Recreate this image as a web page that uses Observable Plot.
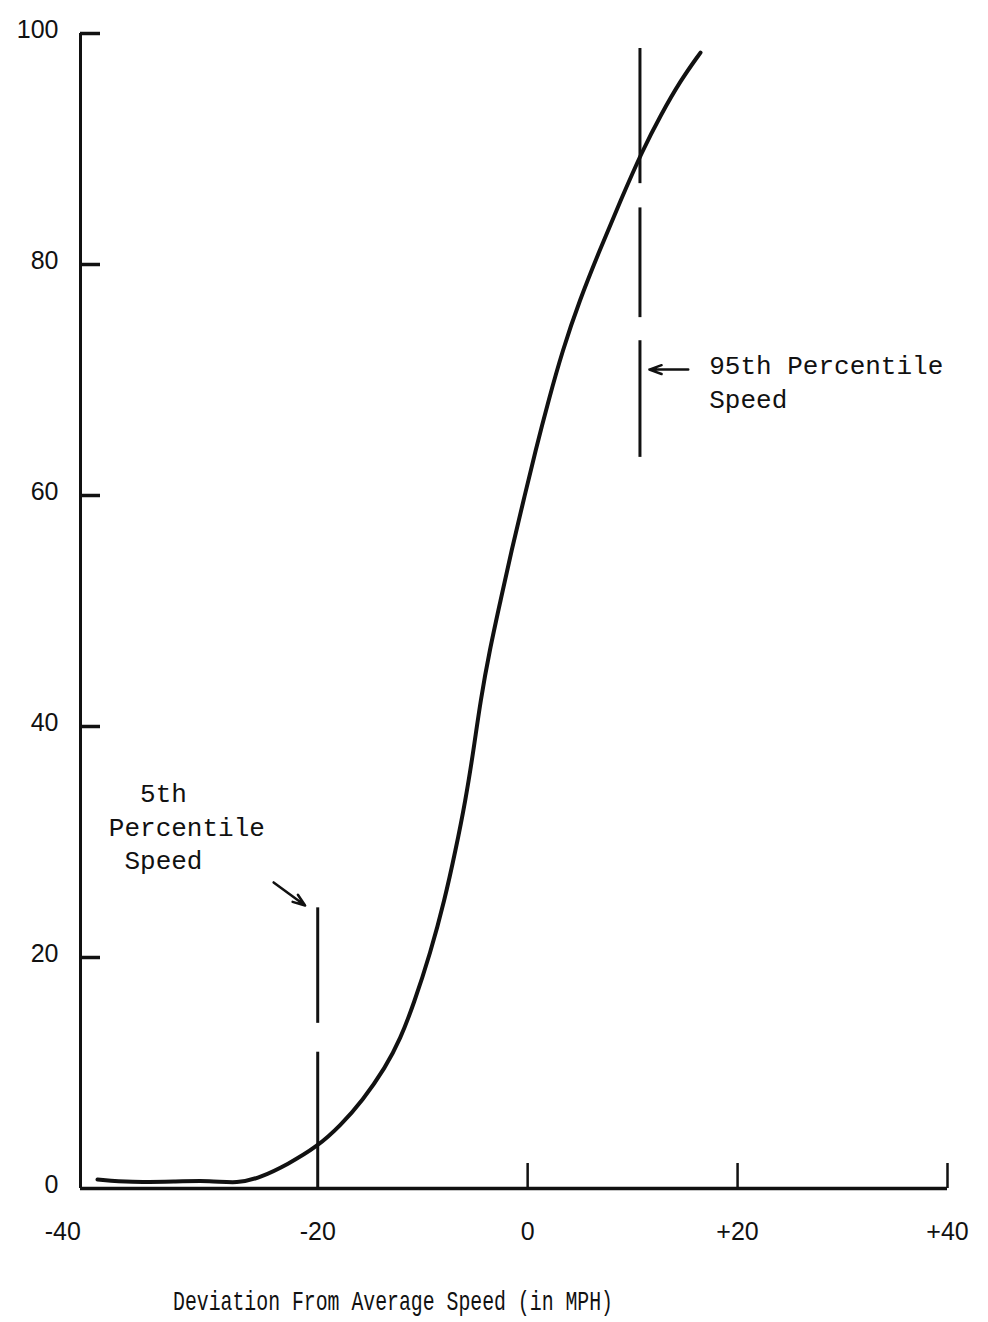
<!DOCTYPE html>
<html>
<head>
<meta charset="utf-8">
<script src="https://cdn.jsdelivr.net/npm/d3@7"></script>
<script src="https://cdn.jsdelivr.net/npm/@observablehq/plot@0.6"></script>
<style>
  html, body { margin: 0; padding: 0; background: #fff; }
  #chart svg { display: block; }
</style>
</head>
<body>
<div id="chart"></div>
<script>
// ---- data ----
const xDomain = [-42.6, 40];
const yDomain = [0, 100];
const xTickValues = [-20, 0, 20, 40];
const xTickLabels = ["-20", "0", "+20", "+40"];
const xFirstTick = [-40];
const xFirstLabel = ["-40"];
const xTickMarks = [0, 20, 40];
const yTickValues = [0, 20, 40, 60, 80, 100];
const yTickMarks = [20, 40, 60, 80, 100];

// cumulative curve (deviation mph, cumulative percent)
const curveX = [-40.98, -37.84, -33.55, -30.21, -27.64, -25.45, -22.88, -20.02, -17.83, -15.73, -13.54, -12.11, -10.87, -9.25, -7.92, -6.87, -5.92, -5.16, -4.49, -3.63, -2.58, -1.54, -0.39, 0.75, 1.99, 3.32, 4.94, 6.85, 8.85, 10.94, 12.66, 14.56, 16.47];
const curveY = [0.78, 0.52, 0.61, 0.69, 0.43, 0.95, 2.08, 3.64, 5.45, 7.62, 10.48, 12.99, 15.93, 20.43, 24.94, 29.26, 33.59, 37.92, 42.25, 46.58, 50.91, 55.24, 59.57, 63.90, 68.23, 72.55, 76.88, 81.21, 85.54, 89.87, 92.90, 95.93, 98.35];

// dashed percentile lines (segments)
const pctX  = [10.7, 10.7, 10.7, -20.0, -20.0];
const pctY1 = [98.7, 84.9, 73.4, 24.3, 11.8];
const pctY2 = [87.0, 75.4, 63.3, 14.3, 0];

// annotations
const noteText = ["95th Percentile\nSpeed", "\u00a0\u00a05th\nPercentile\n\u00a0Speed"];
const noteX = [17.3, -39.9];
const noteY = [70.0, 31.5];
const arrowX1 = [15.3, -24.2];
const arrowY1 = [70.9, 26.5];
const arrowX2 = [11.6, -21.2];
const arrowY2 = [70.9, 24.5];
const xTitle = ["Deviation From Average Speed (in MPH)"];

// ---- build tables ----
const curve = curveX.map((x, i) => ({x, y: curveY[i]}));
const pct = pctX.map((x, i) => ({x, y1: pctY1[i], y2: pctY2[i]}));
const notes = noteText.map((t, i) => ({t, x: noteX[i], y: noteY[i]}));
const arrows = arrowX1.map((x1, i) => ({x1, y1: arrowY1[i], x2: arrowX2[i], y2: arrowY2[i]}));

const ink = "#111";
const mono = "'Liberation Mono', 'DejaVu Sans Mono', monospace";

const chart = Plot.plot({
  width: 988,
  height: 1322,
  marginLeft: 80,
  marginRight: 41,
  marginTop: 33,
  marginBottom: 134,
  style: {fontFamily: "'Liberation Sans', Arial, sans-serif", fontSize: "25px", color: ink, background: "#fff"},
  x: {domain: xDomain},
  y: {domain: yDomain},
  marks: [
    // axis lines
    Plot.ruleX([xDomain[0]], {stroke: ink, strokeWidth: 3}),
    Plot.ruleY([0], {stroke: ink, strokeWidth: 3.5}),
    // y tick marks (inward)
    Plot.axisY(yTickMarks, {tickSize: 20, dx: 20, tickFormat: () => "", stroke: ink, strokeWidth: 3.5, label: null}),
    // y tick labels
    Plot.axisY(yTickValues, {tickSize: 0, tickPadding: 22, dy: -4, fontSize: 25, fill: ink, label: null}),
    // x tick marks (upward)
    Plot.axisX(xTickMarks, {tickSize: 25, dy: -25, tickFormat: () => "", stroke: ink, strokeWidth: 2.5, label: null}),
    // x tick labels
    Plot.axisX(xTickValues, {tickSize: 0, tickPadding: 34, fontSize: 25, fill: ink, label: null,
      tickFormat: (d) => xTickLabels[xTickValues.indexOf(d)]}),
    Plot.axisX(xFirstTick, {tickSize: 0, tickPadding: 34, dx: -45, fontSize: 25, fill: ink, label: null,
      tickFormat: (d) => xFirstLabel[xFirstTick.indexOf(d)]}),
    // percentile lines
    Plot.ruleX(pct, {x: "x", y1: "y1", y2: "y2", stroke: ink, strokeWidth: 3}),
    // curve
    Plot.line(curve, {x: "x", y: "y", curve: "basis", stroke: ink, strokeWidth: 4, strokeLinecap: "round", strokeLinejoin: "round"}),
    // arrows
    Plot.arrow(arrows, {x1: "x1", y1: "y1", x2: "x2", y2: "y2", stroke: ink, strokeWidth: 2.5, headLength: 12, headAngle: 40}),
    // annotations
    Plot.text(notes, {x: "x", y: "y", text: "t", textAnchor: "start", lineAnchor: "middle", lineHeight: 1.3,
      fontFamily: mono, fontSize: 26, fill: ink}),
    // x title
    Plot.text(xTitle, {frameAnchor: "bottom", dy: 121, dx: -121, text: (d) => d, fontFamily: mono, fontSize: 28, fill: ink, className: "xtitle"})
  ]
});

document.getElementById("chart").appendChild(chart);
// condense the axis title like the typewriter original
const t = chart.querySelector(".xtitle text");
if (t) { t.setAttribute("textLength", "440"); t.setAttribute("lengthAdjust", "spacingAndGlyphs"); }
</script>
</body>
</html>
